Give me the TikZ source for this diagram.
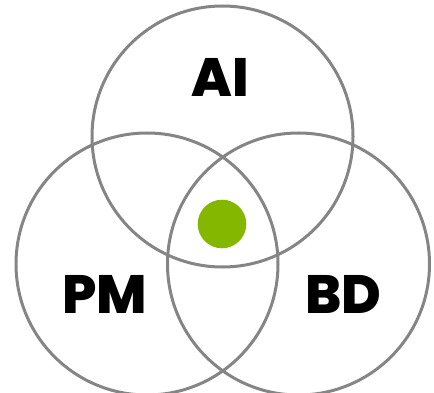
\documentclass[tikz,border=0pt]{standalone}
\usepackage{fontspec}
\setmainfont{Poppins}[BoldFont={* ExtraBold}]
\definecolor{ringgray}{HTML}{858585}
\definecolor{dotgreen}{HTML}{84B800}
\begin{document}
\begin{tikzpicture}[x=1pt,y=-1pt,
  ring/.style={draw=ringgray,line width=3pt},
  lbl/.style={font=\fontsize{54}{54}\selectfont\bfseries,text=black,inner sep=0pt,anchor=base}]
\useasboundingbox (0,0) rectangle (434,393);
\draw[ring] (222.5,136.5) circle[radius=130.5];
\draw[ring] (147,264) circle[radius=131];
\draw[ring] (298.5,264) circle[radius=131];
\fill[dotgreen] (222,224) circle[radius=24.3];
\node[lbl] (ai) at (220,97) {AI};
\node[lbl] (pm) at (105,313) {PM};
\node[lbl] (bd) at (343.5,313) {BD};
\end{tikzpicture}
\end{document}
